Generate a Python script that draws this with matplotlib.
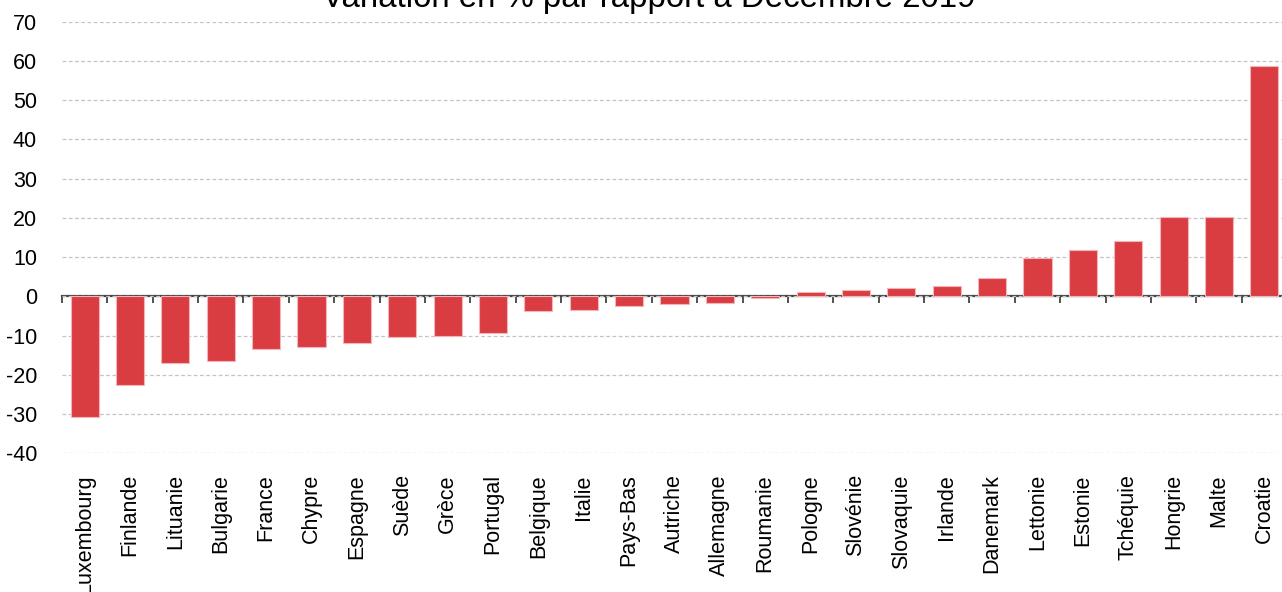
import matplotlib
matplotlib.use('Agg')
import matplotlib.pyplot as plt
import numpy as np

plt.rcParams['font.family'] = ['Liberation Sans', 'DejaVu Sans']

pays = ['Luxembourg', 'Finlande', 'Lituanie', 'Bulgarie', 'France', 'Chypre',
        'Espagne', 'Suède', 'Grèce', 'Portugal', 'Belgique', 'Italie',
        'Pays-Bas', 'Autriche', 'Allemagne', 'Roumanie', 'Pologne', 'Slovénie',
        'Slovaquie', 'Irlande', 'Danemark', 'Lettonie', 'Estonie', 'Tchéquie',
        'Hongrie', 'Malte', 'Croatie']
variation = [-30.8, -22.5, -17.0, -16.6, -13.5, -12.8, -11.8, -10.4, -10.0,
             -9.4, -3.8, -3.4, -2.4, -1.9, -1.6, -0.3, 1.2, 1.5, 2.2, 2.6,
             4.7, 9.9, 11.7, 14.2, 20.3, 20.3, 58.8]
graduations = [70, 60, 50, 40, 30, 20, 10, 0, -10, -20, -30, -40]
titre = 'Variation en % par rapport à Décembre 2019'

fig = plt.figure(figsize=(12.82, 5.92), dpi=100)
ax = fig.add_axes([62 / 1282, 1 - 453.3 / 592, 1225 / 1282, (453.3 - 21.7) / 592])

x = np.arange(len(pays))
ax.bar(x, variation, width=0.62, color='#d93d42', edgecolor='#f3b5b7',
       linewidth=0.8, zorder=2)

ax.set_xlim(-0.5, len(pays) - 0.5)
ax.set_ylim(-40, 70)
ax.set_yticks(graduations)
ax.set_yticklabels([str(g) for g in graduations])
ax.grid(axis='y', linestyle=(0, (3, 2)), color='#c4c4c4', linewidth=0.9, zorder=0)

ax.set_xticks(x)
ax.set_xticklabels(pays, rotation=90)
ax.tick_params(axis='x', length=0, pad=15, labelsize=15.5)
ax.tick_params(axis='y', length=0, pad=18, labelsize=15.5)
for s in ax.spines.values():
    s.set_visible(False)

# ligne du zéro avec graduations entre les catégories
ax0 = ax.secondary_xaxis(0, transform=ax.transData)
ax0.set_xticks(np.arange(len(pays) + 1) - 0.5)
ax0.set_xticklabels([])
ax0.tick_params(axis='x', direction='out', length=5, width=1.2, color='#333333')
ax0.spines['bottom'].set_color('#444444')
ax0.spines['bottom'].set_linewidth(1.6)

fig.text(649 / 1282, 1 - 7 / 592, titre, ha='center', va='baseline', fontsize=23.8)

fig.savefig('out.png', dpi=100)
